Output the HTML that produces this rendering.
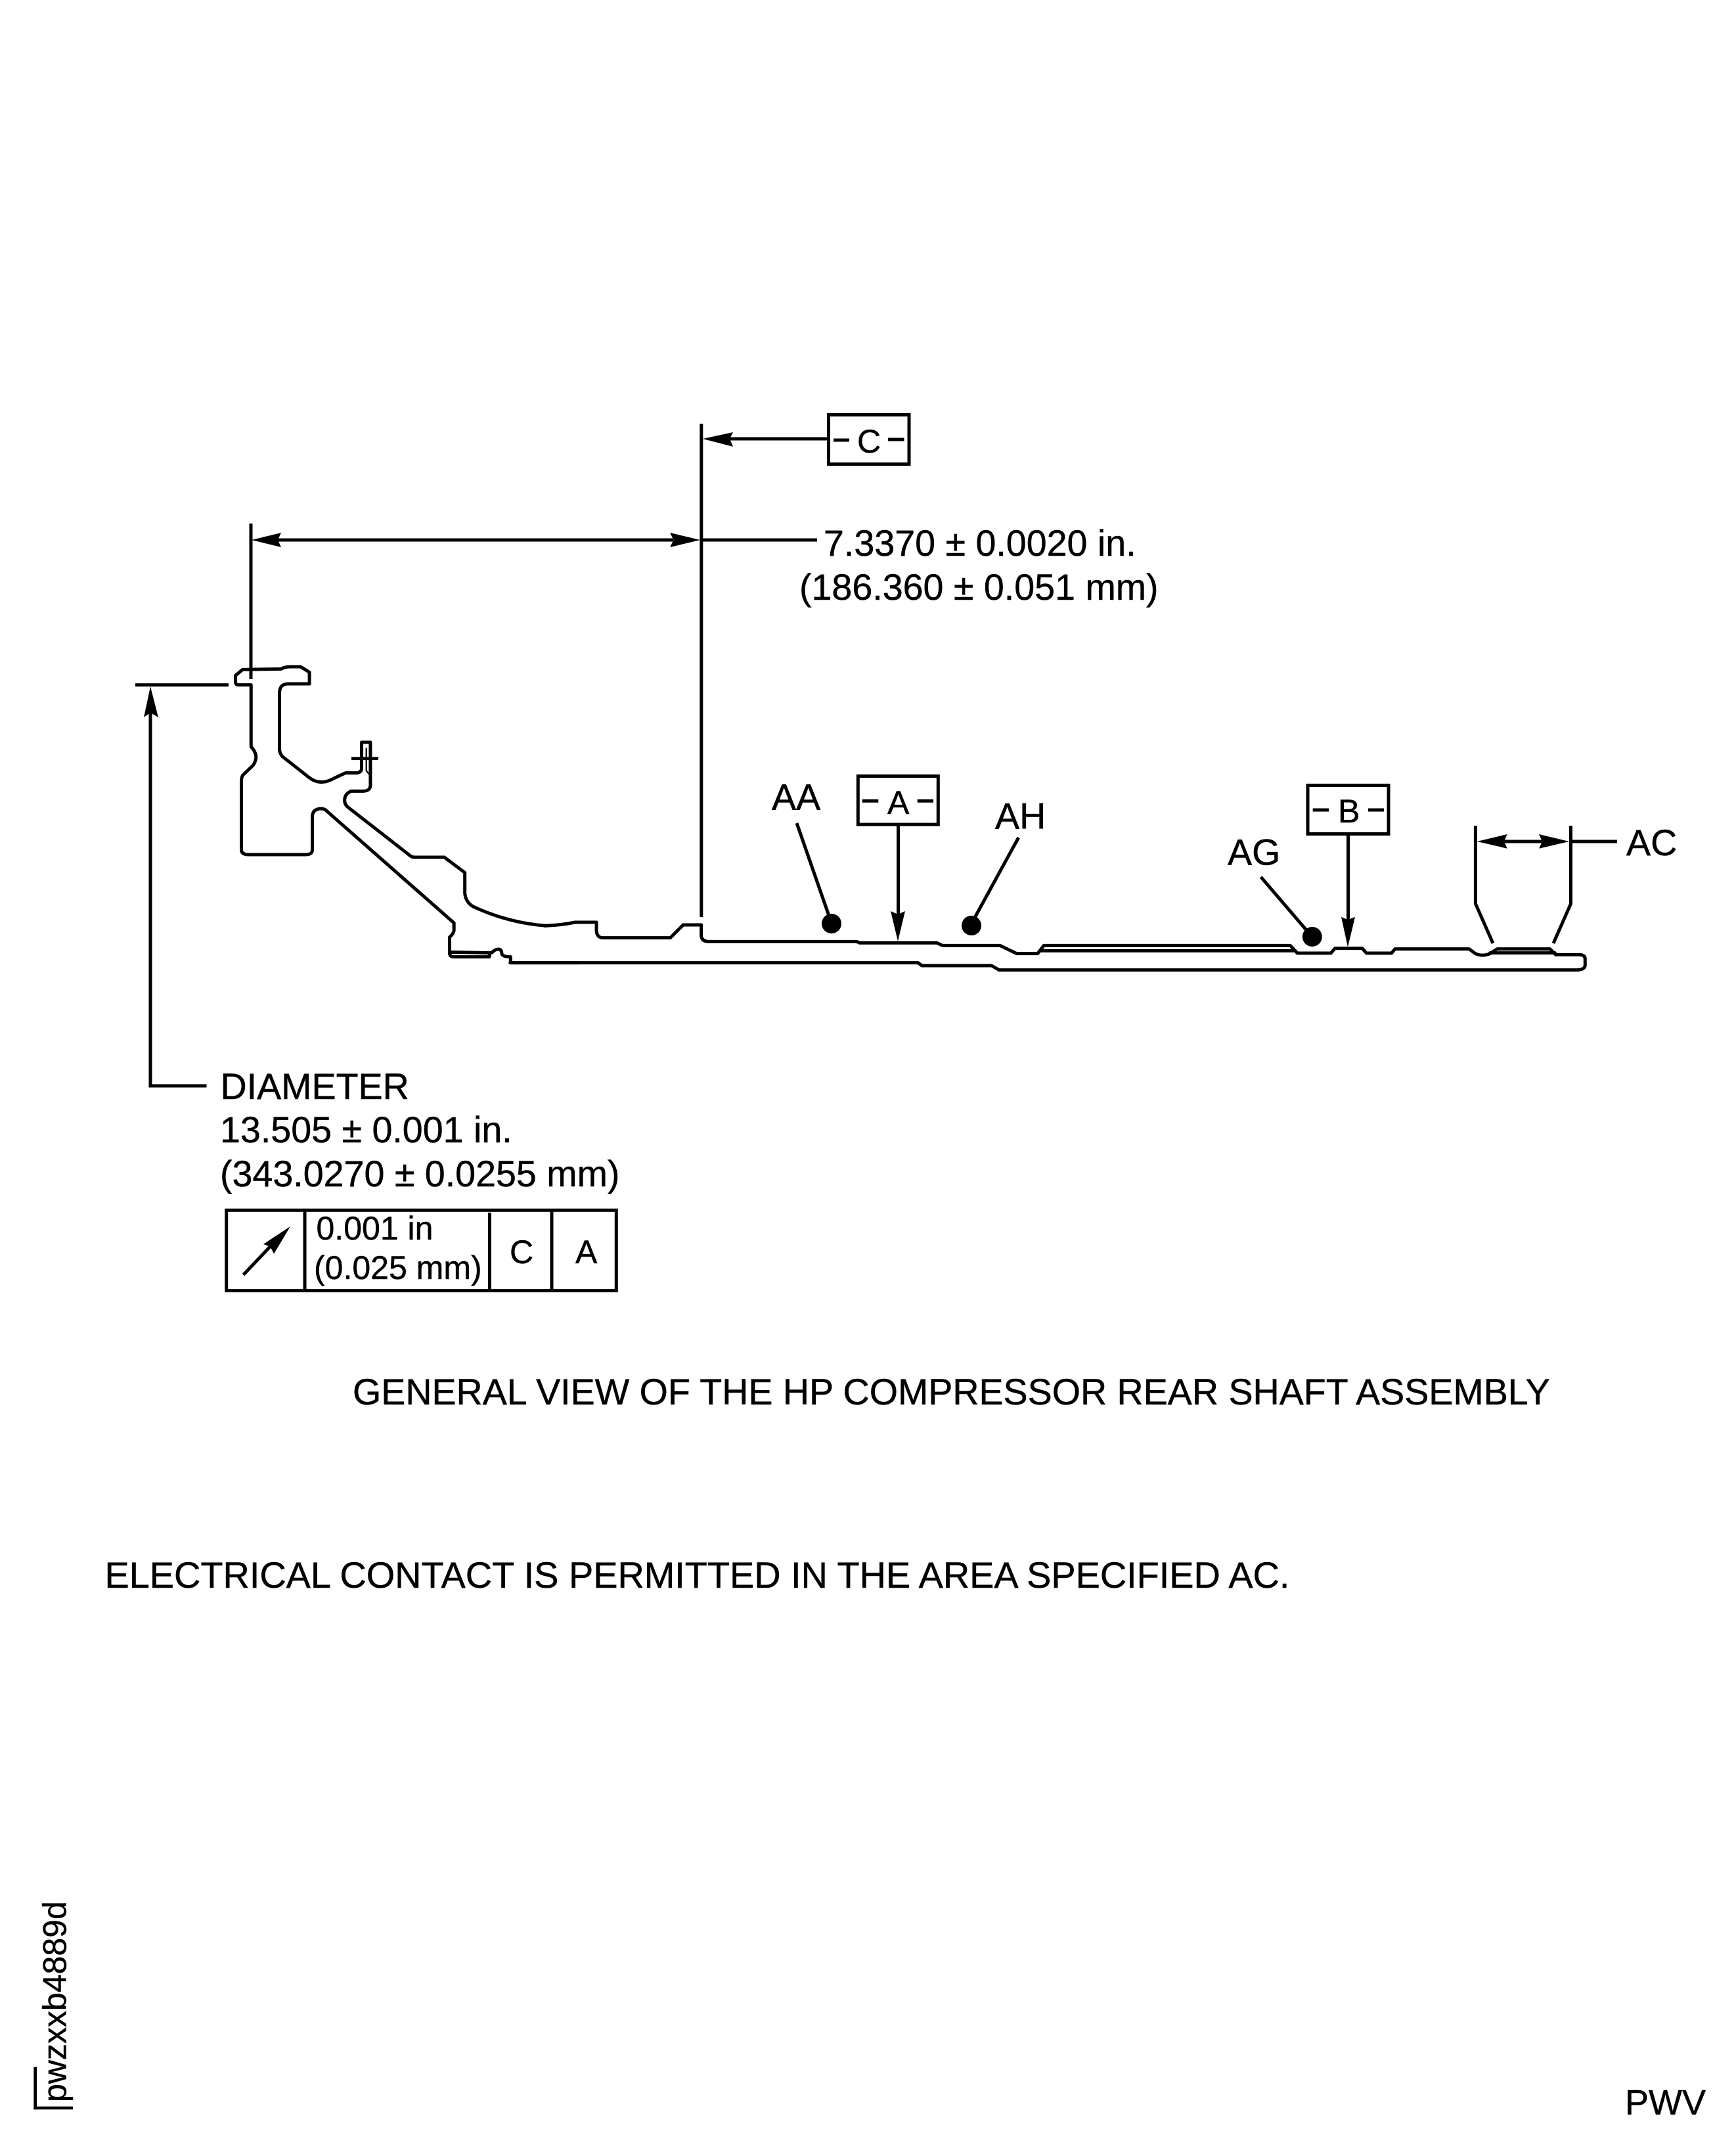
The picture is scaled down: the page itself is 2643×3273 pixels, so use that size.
<!DOCTYPE html>
<html>
<head>
<meta charset="utf-8">
<style>
html,body{margin:0;padding:0;background:#fff;}
svg{display:block;}
text{font-family:"Liberation Sans",Arial,sans-serif;fill:#000;font-size:55.6px;stroke:#000;stroke-width:.5;}
.s{fill:none;stroke:#000;stroke-width:5;stroke-linejoin:round;stroke-linecap:round;vector-effect:non-scaling-stroke;}
.b{fill:none;stroke:#000;stroke-width:5;}
.d{fill:none;stroke:#000;stroke-width:5;}
.m{font-size:50px;}
.t{font-size:50px;}
.c{font-size:55.85px;}
</style>
</head>
<body>
<svg xmlns="http://www.w3.org/2000/svg" width="2643" height="3273" viewBox="0 0 2643 3273">
<rect width="2643" height="3273" fill="#fff"/>

<!-- Profile left -->
<g transform="translate(180,960) scale(0.44643,0.33333)">
<path class="s" d="M453,525 V248 H410 Q400,248 400,235 V205 L424,178 L555,175 Q570,165 585,165 H622 L652,190 V243 H580 Q550,243 550,285 V540 Q550,560 560,575 L650,670 Q670,692 695,692 Q715,690 735,675 L775,650 H815 Q830,645 830,630 V510 H860 V705 Q860,733 835,733 H795 Q772,745 772,775 Q772,795 785,808 L990,1022 Q1000,1035 1010,1035 H1112 L1182,1105 V1200 Q1185,1240 1210,1260 Q1330,1335 1460,1348"/>
<path class="s" d="M453,530 Q470,555 470,580 Q468,600 460,615 L425,660 Q420,670 420,690 V1000 Q420,1023 445,1023 H640 Q662,1023 662,1000 V845 Q665,815 690,813 Q705,813 712,825 L1145,1335 V1370 Q1143,1385 1130,1400 V1475 Q1132,1490 1145,1490 H1265 L1268,1472 L1130,1468 M1268,1472 L1275,1470 Q1285,1455 1297,1455 Q1307,1455 1308,1475 Q1310,1490 1338,1490 V1517 H1568"/>
<path d="M846,535 V640 L858,660" fill="none" stroke="#000" stroke-width="2.2" vector-effect="non-scaling-stroke"/>
</g>
<!-- Profile middle -->
<g transform="translate(640,1300) scale(0.57400,0.33333)">
<path class="s" d="M330,328 Q375,325 410,312 H467 V350 Q468,383 485,383 H663 L697,324 H745 V375 Q747,400 765,400 H1157 L1165,406 H1370 L1385,418 H1537"/>
<path class="s" d="M238,497 H1320 L1330,510 H1515 L1535,530"/>
</g>
<!-- Profile right -->
<g transform="translate(1500,1300) scale(0.63776,0.33333)">
<path class="s" d="M35,418 L75,455 H125 L140,418 H728 L745,453 H825 L835,431 H900 L910,453 H970 L978,434 H1155 L1170,455 Q1187,470 1205,455 L1222,434 H1348 L1362,460 H1420 Q1432,462 1432,480 V510 Q1430,530 1410,530 H35"/>
<path class="s" d="M132,442 H740 M1205,452 H1360"/>
</g>

<!-- small cross on the lug -->
<rect x="535" y="1152.3" width="41" height="4.8" fill="#000"/>

<!-- Dimension 7.3370 -->
<rect x="379.5" y="797" width="5" height="237" fill="#000"/>
<rect x="1065.3" y="645" width="5" height="751" fill="#000"/>
<rect x="420" y="819.5" width="605" height="5" fill="#000"/>
<rect x="1066" y="819.5" width="178" height="5" fill="#000"/>
<polygon points="383,822 428,811 423,822 428,833" fill="#000"/>
<polygon points="1066,822 1020,811 1025.5,822 1020,833" fill="#000"/>
<text x="1254" y="846">7.3370 ± 0.0020 in.</text>
<text x="1217" y="913">(186.360 ± 0.051 mm)</text>

<!-- Datum C -->
<rect x="1261.5" y="631.5" width="122.5" height="75" class="b"/>
<rect x="1108" y="665.5" width="151" height="5" fill="#000"/>
<polygon points="1070,668 1116,658 1111,668 1116,680" fill="#000"/>
<line x1="1269" y1="670" x2="1293" y2="670" class="d"/>
<line x1="1352" y1="669" x2="1376.5" y2="669" class="d"/>
<text x="1305" y="689" class="m">C</text>

<!-- Diameter -->
<rect x="206" y="1040.2" width="142" height="5" fill="#000"/>
<rect x="226.5" y="1085" width="5" height="570" fill="#000"/>
<rect x="226.5" y="1650.5" width="88" height="5" fill="#000"/>
<polygon points="229,1045 219,1092 229,1085 241,1092" fill="#000"/>
<text x="335.5" y="1673">DIAMETER</text>
<text x="335" y="1739">13.505 ± 0.001 in.</text>
<text x="335" y="1806">(343.0270 ± 0.0255 mm)</text>

<!-- Feature control frame -->
<rect x="344.7" y="1842.3" width="593.6" height="122.4" class="b"/>
<rect x="461.5" y="1842" width="5" height="123" fill="#000"/>
<rect x="743" y="1846" width="5" height="119" fill="#000"/>
<rect x="837.5" y="1842" width="5" height="123" fill="#000"/>
<line x1="370.5" y1="1940.7" x2="412" y2="1897" stroke="#000" stroke-width="5"/>
<polygon points="442,1867 417,1908.7 411.6,1898 401,1894" fill="#000"/>
<text x="481.5" y="1887" class="t">0.001 in</text>
<text x="478" y="1947" class="t">(0.025 mm)</text>
<text x="776" y="1923" class="m">C</text>
<text x="876" y="1923" class="m">A</text>

<!-- AA / A / AH -->
<text x="1175" y="1232.7">AA</text>
<line x1="1213" y1="1253" x2="1262" y2="1394" stroke="#000" stroke-width="5"/>
<circle cx="1266" cy="1406" r="15" fill="#000"/>
<rect x="1306.3" y="1181.5" width="122" height="73.6" class="b"/>
<line x1="1312.7" y1="1219.3" x2="1337.3" y2="1219.3" class="d"/>
<line x1="1396.7" y1="1219.3" x2="1421" y2="1219.3" class="d"/>
<text x="1351" y="1239" class="m">A</text>
<rect x="1365" y="1257" width="5" height="140" fill="#000"/>
<polygon points="1367,1433 1356,1387 1367,1392 1378,1387" fill="#000"/>
<text x="1515" y="1261.7">AH</text>
<line x1="1550.7" y1="1275" x2="1484" y2="1397" stroke="#000" stroke-width="5"/>
<circle cx="1479" cy="1409" r="15" fill="#000"/>

<!-- AG / B -->
<text x="1869" y="1316.7">AG</text>
<line x1="1919.6" y1="1335" x2="1989" y2="1416" stroke="#000" stroke-width="5"/>
<circle cx="1997.8" cy="1426" r="15" fill="#000"/>
<rect x="1991" y="1195.5" width="123" height="74" class="b"/>
<line x1="1998.7" y1="1233" x2="2023" y2="1233" class="d"/>
<line x1="2083" y1="1233" x2="2107" y2="1233" class="d"/>
<text x="2037" y="1252" class="m">B</text>
<rect x="2050" y="1272" width="5" height="130" fill="#000"/>
<polygon points="2052,1441.7 2042,1396 2052,1400 2063,1396" fill="#000"/>

<!-- AC -->
<path d="M2246.4,1257 V1375.7 L2273,1436" fill="none" stroke="#000" stroke-width="5"/>
<path d="M2391.5,1257 V1375.7 L2365,1436" fill="none" stroke="#000" stroke-width="5"/>
<rect x="2288" y="1278.5" width="62" height="5" fill="#000"/>
<rect x="2391" y="1278.5" width="71" height="5" fill="#000"/>
<polygon points="2248.6,1281 2294.6,1270 2290,1281 2294.6,1291.7" fill="#000"/>
<polygon points="2389,1281 2343,1270 2348,1281 2343,1291.7" fill="#000"/>
<text x="2476" y="1302">AC</text>

<!-- Captions -->
<text x="537" y="2138" style="font-size:55.6px">GENERAL VIEW OF THE HP COMPRESSOR REAR SHAFT ASSEMBLY</text>
<text x="159.5" y="2417" class="c">ELECTRICAL CONTACT IS PERMITTED IN THE AREA SPECIFIED AC.</text>

<!-- Corner -->
<text x="2474" y="3219" style="font-size:54px">PWV</text>
<rect x="51.3" y="3146.7" width="4.7" height="64.6" fill="#000"/>
<rect x="51.3" y="3206.7" width="59.7" height="4.6" fill="#000"/>
<text transform="translate(100.5,3200) rotate(-90)" style="font-size:50px">pwzxxb4889d</text>
</svg>
</body>
</html>
